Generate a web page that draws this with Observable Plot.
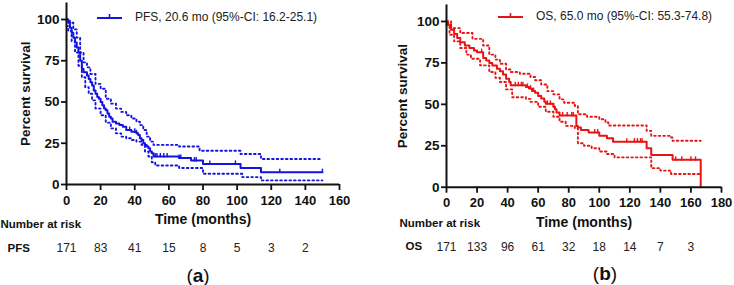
<!DOCTYPE html>
<html><head><meta charset="utf-8">
<script src="https://cdn.jsdelivr.net/npm/d3@7"></script>
<script src="https://cdn.jsdelivr.net/npm/@observablehq/plot@0.6"></script>
<style>
body{margin:0;background:#fff;font-family:"Liberation Sans",Arial,sans-serif;}
#wrap{position:relative;width:734px;height:285px;overflow:hidden;background:#fff;}
.panel{position:absolute;top:0;}
.legend{position:absolute;font-size:12px;color:#222;display:flex;align-items:center;white-space:nowrap;}
.legend svg{margin-right:13px;}
.cap{position:absolute;font-size:19px;color:#111;transform:translate(-50%,-50%);line-height:1;}
</style></head><body><div id="wrap"></div>
<script>
// ---- Panel (a): PFS ----
const pfsTime = [0,1,2,3,4,5,6,7,8,9,10,12,13,14,15,16,17,18,19,20,21,22,23,24,25,26,27,29,31,33,35,38,41,42,43,44,45,46,47,48,49,50,51,66,73,80,102,114,150];
const pfsSurv = [100,98,95,92,89,86,83,80,75,70,68,66,64,62,60,57,55,53,52,50,48,46,45,43,41,40,38,37,36,35,33,32,31,30,28,27,25,24,23,22,20,19,17,16,14.5,12.5,10,7.5,7.5];
const pfsUpperTime = [0,2,4,6,8,10,12,14,17,20,23,26,29,32,35,38,41,43,45,47,49,51,66,78,102,114,150];
const pfsUpper = [100,98,94,89,80,74,71,67,61,58,52,49,46,44,42,40,38,36,33,29,26,24,23,20.5,18.5,15.5,15.5];
const pfsLowerTime = [0,1,3,5,7,9,11,13,15,17,20,23,26,29,32,35,38,41,44,46,48,50,52,66,80,103,114,150];
const pfsLower = [96,93,87,80,72,65,59,55,51,46,42,37.5,34,31,29,28,27,26,24,20,17,13.5,11.5,10,6.5,4.5,2.5,2.5];
const pfsCensored = [37,40,41,52,53,55,57,59,66,67,75,76,84,99,125,150];
const pfsRiskTime = [0,20,40,60,80,100,120,140];
const pfsRisk = [171,83,41,15,8,5,3,2];
const pfsXTicks = [0,20,40,60,80,100,120,140,160];

// ---- Panel (b): OS ----
const osTime = [0,1,3,5,7,9,12,15,18,20,24,26,28,30,33,35,37,39,41,42,52,54,56,58,60,62,64,65,70,71,72,74,85,86,88,93,100,105,109,131,134,148,166.4];
const osSurv = [100,98,95,92.5,90,87.5,85.5,84,82.5,81.5,78,76.5,75,73.5,71.5,70,68,65.5,63.5,61.5,60.5,59.5,58,57,55,53.5,51.5,50.3,48.5,47,45,43.3,37,36,34.5,33,31,29.5,27.5,23.5,19.5,16.5,0];
const osUpperTime = [0,3,9,17,24,28,32,35,39,42,48,55,58,62,66,70,74,77,84,86,92,100,104,106,127,131,134,147,148,166.4];
const osUpper = [100,96,93,89.5,85.5,80,77,74.5,71,69.5,68.5,66.5,64.5,62,58,56,53,51,49,44,42.5,41,39,37.2,37.2,34,31,30,28,28];
const osLowerTime = [0,2,5,9,13,16,22,28,32,35,39,43,52,55,60,65,70,74,78,84,86,90,95,100,105,110,131,134,140,147,166.4];
const osLower = [98,92,88,84,80,77.5,73.5,69.5,66,63.5,59,54.3,53.3,51.5,48.5,45.5,42.5,39.5,37,35.5,26.5,25,23.5,21.5,20,18,18,11.5,10,8,8];
const osCensored = [23,45,47,49,50,53,55,57,66,68,70,76,79,82,83,97,99,118,123,125,127,128,150,154,160,163];
const osRiskTime = [0,20,40,60,80,100,120,140,160];
const osRisk = [171,133,96,61,32,18,14,7,3];
const osXTicks = [0,20,40,60,80,100,120,140,160,180];

const yTicks = [0,25,50,75,100];
const FONT = '"Liberation Sans", Arial, Helvetica, sans-serif';

const zip = (T, S) => T.map((t, i) => ({t, s: S[i]}));
const stepAt = (T, S, t) => { let v = S[0]; for (let i = 0; i < T.length; i++) if (T[i] <= t) v = S[i]; return v; };
const tickSymbol = { draw(ctx, size) { const r = Math.sqrt(size / Math.PI); ctx.moveTo(0, -r); ctx.lineTo(0, r * 0.25); } };

function panel(o) {
  const cens = o.cens.map(t => ({t, s: stepAt(o.T, o.S, t)}));
  const risk = o.riskT.map((t, i) => ({t, n: o.risk[i]}));
  const dots = {curve: "step-after", stroke: o.color, strokeWidth: 1.9, strokeDasharray: "1.6,3"};
  return Plot.plot({
    width: 367, height: 285,
    marginLeft: o.m.l, marginRight: o.m.r, marginTop: o.m.t, marginBottom: o.m.b,
    x: {domain: [0, o.xMax]},
    y: {domain: [0, 110]},
    style: {fontFamily: FONT, color: "#111", background: "transparent", overflow: "visible"},
    marks: [
      Plot.line(zip(o.UT, o.U), {x: "t", y: "s", ...dots}),
      Plot.line(zip(o.LT, o.L), {x: "t", y: "s", ...dots}),
      Plot.line(zip(o.T, o.S), {x: "t", y: "s", curve: "step-after", stroke: o.color, strokeWidth: 2}),
      Plot.dot(cens, {x: "t", y: "s", symbol: tickSymbol, r: 3.5, stroke: o.color, strokeWidth: 1.4, fill: "none"}),
      Plot.ruleX([0], {strokeWidth: 2, stroke: "#111"}),
      Plot.ruleY([0], {strokeWidth: 2, stroke: "#111"}),
      Plot.axisX(o.xTicks, {tickSize: 6, tickPadding: 5, fontSize: 13, fontWeight: "bold", strokeWidth: 1.8, label: null}),
      Plot.axisY(yTicks, {tickSize: 5, tickPadding: 2, fontSize: 13.5, fontWeight: "bold", strokeWidth: 1.8, label: null}),
      Plot.text(["Percent survival"], {text: d => d, frameAnchor: "left", textAnchor: "middle", lineAnchor: "middle", rotate: -90, dx: o.yLabDx, fontSize: 13.5, fontWeight: "bold"}),
      Plot.text(["Time (months)"], {text: d => d, frameAnchor: "bottom", textAnchor: "middle", lineAnchor: "middle", dy: o.xLabDy, fontSize: 14, fontWeight: "bold"}),
      Plot.text(["Number at risk"], {text: d => d, frameAnchor: "bottom-left", textAnchor: "start", lineAnchor: "middle", dx: o.narDx, dy: o.narDy, fontSize: 11.5, fontWeight: "bold"}),
      Plot.text([o.rowLabel], {text: d => d, frameAnchor: "bottom-left", textAnchor: "start", lineAnchor: "middle", dx: o.rowDx, dy: o.rowDy, fontSize: 11.5, fontWeight: "bold"}),
      Plot.text(risk, {x: "t", text: "n", frameAnchor: "bottom", lineAnchor: "middle", dy: o.rowDy, fontSize: 12, fill: "#222"})
    ]
  });
}

const wrap = document.getElementById("wrap");

const a = panel({
  T: pfsTime, S: pfsSurv, UT: pfsUpperTime, U: pfsUpper, LT: pfsLowerTime, L: pfsLower,
  cens: pfsCensored, riskT: pfsRiskTime, risk: pfsRisk, xTicks: pfsXTicks, xMax: 160,
  color: "#1414e0", rowLabel: "PFS",
  m: {l: 66, r: 28, t: 2.5, b: 101},
  yLabDx: -41, xLabDy: 35, narDx: -66, narDy: 40, rowDx: -59, rowDy: 64
});
a.classList.add("panel"); a.style.left = "0px";
wrap.appendChild(a);

const b = panel({
  T: osTime, S: osSurv, UT: osUpperTime, U: osUpper, LT: osLowerTime, L: osLower,
  cens: osCensored, riskT: osRiskTime, risk: osRisk, xTicks: osXTicks, xMax: 180,
  color: "#e81414", rowLabel: "OS",
  m: {l: 79, r: 13, t: 4.4, b: 98.3},
  yLabDx: -44, xLabDy: 35.3, narDx: -47, narDy: 36, rowDx: -41, rowDy: 59.5
});
b.classList.add("panel"); b.style.left = "367px";
wrap.appendChild(b);

function legend(left, top, color, label) {
  const d = document.createElement("div");
  d.className = "legend";
  d.style.left = left + "px"; d.style.top = top + "px";
  d.innerHTML = `<svg width="25" height="14"><line x1="0" x2="25" y1="8" y2="8" stroke="${color}" stroke-width="2"/><line x1="12.5" x2="12.5" y1="4" y2="8" stroke="${color}" stroke-width="1.6"/></svg><span>${label}</span>`;
  wrap.appendChild(d);
}
legend(97, 10, "#1414e0", "PFS, 20.6 mo (95%-CI: 16.2-25.1)");
legend(498, 9, "#e81414", "OS, 65.0 mo (95%-CI: 55.3-74.8)");

function caption(x, y, letter) {
  const d = document.createElement("div");
  d.className = "cap";
  d.style.left = x + "px"; d.style.top = y + "px";
  d.innerHTML = `(<b>${letter}</b>)`;
  wrap.appendChild(d);
}
caption(198, 275, "a");
caption(605, 273, "b");
</script>
</body></html>
